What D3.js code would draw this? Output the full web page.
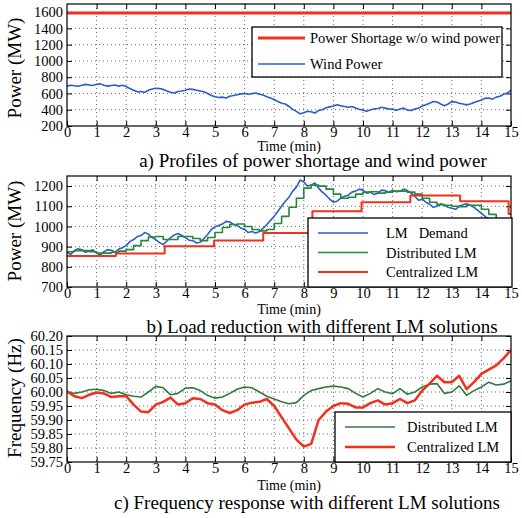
<!DOCTYPE html>
<html><head><meta charset="utf-8">
<script src="https://cdn.jsdelivr.net/npm/d3@7"></script>
<style>
body{margin:0;background:#fff}
svg{display:block}
svg text{font-family:'Liberation Serif','Times New Roman','DejaVu Serif',serif !important;fill:#000}
</style>
</head><body>
<svg id="c" width="522" height="518" font-family="Liberation Serif"></svg>
<script>
// ---------- data ----------
const timeTicks = [0,1,2,3,4,5,6,7,8,9,10,11,12,13,14,15];
const sampleTimes = d3.range(0, 15.001, 0.25);  // 61 samples, every 15 s
const fineTimes = d3.range(0, 15.001, 0.125);   // 121 samples, every 7.5 s

// a) power shortage & wind power (MW)
const p1YTicks = [200,400,600,800,1000,1200,1400,1600];
const shortageTimes = [0, 15];
const shortageValues = [1590, 1590];
const windValues = [
  690,702,695,688,700,712,705,698,
  712,718,700,690,698,705,690,700,
  685,660,640,620,625,615,640,655,
  665,660,650,630,615,605,625,630,
  640,655,650,640,630,620,600,575,
  560,550,555,545,565,575,585,595,
  600,590,598,605,590,580,560,545,
  525,500,480,470,440,405,380,350,
  362,380,375,360,390,400,425,435,
  445,460,450,440,430,440,420,405,
  395,380,400,410,415,430,420,410,
  405,395,410,420,395,390,410,420,
  445,460,480,500,495,470,450,470,
  500,495,480,470,460,470,490,505,
  520,540,545,530,555,565,590,605,
  640];

// b) load reduction (MW)
const p2YTicks = [700,800,900,1000,1100,1200];
const demandValues = [
  872,862,880,890,885,872,878,884,
  868,858,875,885,882,872,888,895,
  905,925,935,950,955,970,962,945,
  935,920,910,928,945,958,965,955,
  945,932,930,918,922,940,960,985,
  998,1005,1012,1025,1022,1010,1005,992,
  985,970,975,968,975,990,1010,1030,
  1050,1075,1100,1125,1145,1175,1195,1230,
  1220,1200,1205,1215,1190,1170,1155,1135,
  1120,1125,1140,1150,1155,1170,1175,1185,
  1180,1165,1170,1158,1165,1180,1178,1168,
  1180,1172,1175,1185,1178,1165,1150,1130,
  1135,1120,1110,1095,1100,1112,1105,1095,
  1090,1085,1100,1108,1112,1105,1095,1080,
  1065,1050,1035,1020,1005,985,965,940,
  910];
const distributedValues = [875,880,880,875,868,868,872,878,885,905,930,948,950,935,935,950,950,940,930,945,
  970,995,1010,1012,1000,985,978,985,1015,1050,1095,1140,1190,1205,1200,1185,1160,1140,1145,1160,
  1170,1172,1165,1170,1175,1175,1170,1160,1140,1120,1108,1105,1100,1098,1105,1105,1085,1060,1035,1010,975];
const centralTimes = [0,1.65,3.3,4.97,6.63,8.29,9.95,11.6,13.28,14.92,15];
const centralValues = [853,866,902,930,968,1075,1120,1153,1125,1062,1062];

// c) frequency (Hz)
const p3YTicks = [59.75,59.80,59.85,59.90,59.95,60.00,60.05,60.10,60.15,60.20];
const freqDistributed = [60.002,59.995,60.000,60.008,60.010,60.005,59.995,60.000,59.990,59.985,59.982,60.000,60.020,60.015,59.990,59.995,60.014,60.015,60.005,59.988,
  59.978,59.982,59.995,60.010,60.018,60.015,60.000,59.985,59.975,59.965,59.958,59.962,59.988,60.005,60.012,60.018,60.021,60.018,60.012,59.995,
  59.982,59.995,60.012,60.000,59.994,60.012,59.992,60.000,60.018,60.028,60.030,59.995,60.000,60.022,59.988,60.005,60.018,60.035,60.025,60.028,60.040];
const freqCentral = [60.002,59.985,59.978,59.990,59.998,59.995,59.982,59.985,59.985,59.955,59.930,59.928,59.955,59.965,59.980,59.955,59.960,59.978,59.975,59.960,
  59.955,59.935,59.925,59.935,59.955,59.962,59.965,59.975,59.950,59.910,59.870,59.830,59.805,59.815,59.900,59.930,59.950,59.960,59.958,59.945,
  59.945,59.960,59.970,59.955,59.960,59.975,59.960,59.970,60.005,60.030,60.058,60.035,60.035,60.058,60.010,60.035,60.065,60.080,60.095,60.120,60.150];

// ---------- styles ----------
const FONT = "'Liberation Serif','Times New Roman','DejaVu Serif',serif";
const RED = "#f2301e", BLUE = "#2b5ec6", GREEN = "#22883a", DGREEN = "#2e7a3c";
const L = 67, R = 511;
const svg = d3.select("#c");

function panel(cfg) {
  const g = svg.append("g");
  const x = d3.scaleLinear().domain([0, 15]).range([L, R]);
  const y = d3.scaleLinear().domain(cfg.domain).range([cfg.bottom, cfg.top]);
  const id = "clip" + cfg.name;
  svg.append("clipPath").attr("id", id).append("rect")
    .attr("x", L).attr("y", cfg.top).attr("width", R - L).attr("height", cfg.bottom - cfg.top);

  // grid
  const grid = g.append("g").attr("stroke", "#000").attr("stroke-width", 0.8)
    .attr("stroke-dasharray", "1,3").attr("opacity", 0.75);
  grid.selectAll("line.v").data(timeTicks.filter(d => d > 0 && d < 15)).join("line")
    .attr("x1", d => x(d)).attr("x2", d => x(d)).attr("y1", cfg.top).attr("y2", cfg.bottom);
  grid.selectAll("line.h").data(cfg.yTicks.filter(d => y(d) < cfg.bottom - 1 && y(d) > cfg.top + 1)).join("line")
    .attr("x1", L).attr("x2", R).attr("y1", d => y(d)).attr("y2", d => y(d));

  // axes
  const ax = (a) => a.tickSizeOuter(0);
  const fix = s => { s.select(".domain").remove(); s.attr("font-family", null).attr("font-size", null); };
  g.append("g").attr("transform", `translate(0,${cfg.bottom})`)
    .call(ax(d3.axisBottom(x).tickValues(timeTicks).tickSizeInner(-5).tickPadding(1))).call(fix);
  g.append("g").attr("transform", `translate(0,${cfg.top})`)
    .call(ax(d3.axisTop(x).tickValues(timeTicks.filter(d => d > 0 && d < 15)).tickSizeInner(-5).tickFormat(""))).call(fix);
  g.append("g").attr("transform", `translate(${L},0)`)
    .call(ax(d3.axisLeft(y).tickValues(cfg.yTicks).tickSizeInner(-5).tickPadding(4).tickFormat(cfg.fmt))).call(fix);
  g.append("g").attr("transform", `translate(${R},0)`)
    .call(ax(d3.axisRight(y).tickValues(cfg.yTicks).tickSizeInner(-5).tickFormat(""))).call(fix);
  g.selectAll(".tick text").attr("font-size", 14.5).style("font-family", FONT).attr("fill", "#000");
  g.selectAll(".tick line").attr("stroke", "#000");

  // series
  const lines = g.append("g").attr("clip-path", `url(#${id})`);
  cfg.series.forEach(s => {
    const line = d3.line().x(d => x(d[0])).y(d => y(d[1])).curve(s.step ? d3.curveStepAfter : d3.curveLinear);
    lines.append("path").datum(d3.zip(s.t, s.v)).attr("d", line)
      .attr("fill", "none").attr("stroke", s.color).attr("stroke-width", s.w).attr("stroke-linejoin", "round");
  });

  // frame
  g.append("rect").attr("x", L).attr("y", cfg.top).attr("width", R - L).attr("height", cfg.bottom - cfg.top)
    .attr("fill", "none").attr("stroke", "#000").attr("stroke-width", 1.2);

  // labels
  g.append("text").attr("transform", `translate(21,${cfg.ylabelY}) rotate(-90)`)
    .attr("text-anchor", "middle").attr("font-size", 19).style("font-family", FONT).text(cfg.ylabel);
  g.append("text").attr("x", 289).attr("y", cfg.bottom + cfg.xlabelOff).attr("text-anchor", "middle")
    .attr("font-size", 14).style("font-family", FONT).text("Time (min)");
  g.append("text").attr("x", cfg.capX).attr("y", cfg.capY).attr("text-anchor", "middle")
    .attr("font-size", 19).style("font-family", FONT).text(cfg.caption);

  // legend
  const lg = cfg.legend;
  const lgG = g.append("g");
  lgG.append("rect").attr("x", lg.x).attr("y", lg.y).attr("width", lg.w).attr("height", lg.h)
    .attr("fill", "#fff").attr("stroke", "#000").attr("stroke-width", 1.3);
  lg.items.forEach((it, i) => {
    const yy = lg.y + lg.first + i * lg.gap;
    lgG.append("line").attr("x1", lg.x + lg.lx1).attr("x2", lg.x + lg.lx2).attr("y1", yy).attr("y2", yy)
      .attr("stroke", it.color).attr("stroke-width", it.w);
    lgG.append("text").attr("x", lg.x + lg.tx).attr("y", yy + 5).attr("font-size", 14.5)
      .style("font-family", FONT).style("white-space", "pre").text(it.label);
  });
}

panel({
  name: "a", top: 4, bottom: 126, domain: [200, 1700], yTicks: p1YTicks, fmt: d3.format("d"),
  ylabel: "Power (MW)", ylabelY: 68, xlabelOff: 25, capX: 313, capY: 167,
  caption: "a) Profiles of power shortage and wind power",
  series: [
    {t: shortageTimes, v: shortageValues, color: RED, w: 3},
    {t: fineTimes, v: windValues, color: BLUE, w: 1.6}
  ],
  legend: {x: 252, y: 27, w: 250, h: 50, first: 11, gap: 26, lx1: 6, lx2: 53, tx: 58,
    items: [{label: "Power Shortage w/o wind power", color: RED, w: 3},
            {label: "Wind Power", color: BLUE, w: 1.6}]}
});

panel({
  name: "b", top: 176, bottom: 287, domain: [700, 1250], yTicks: p2YTicks, fmt: d3.format("d"),
  ylabel: "Power (MW)", ylabelY: 231, xlabelOff: 27, capX: 322, capY: 333,
  caption: "b) Load reduction with different LM solutions",
  series: [
    {t: fineTimes, v: demandValues, color: BLUE, w: 1.6},
    {t: sampleTimes, v: distributedValues, color: GREEN, w: 1.6, step: true},
    {t: centralTimes, v: centralValues, color: RED, w: 2, step: true}
  ],
  legend: {x: 308, y: 218, w: 204, h: 69, first: 15, gap: 19.5, lx1: 10, lx2: 60, tx: 78,
    items: [{label: "LM   Demand", color: BLUE, w: 1.6},
            {label: "Distributed LM", color: GREEN, w: 1.6},
            {label: "Centralized LM", color: RED, w: 2}]}
});

panel({
  name: "c", top: 336, bottom: 462, domain: [59.75, 60.20], yTicks: p3YTicks, fmt: d3.format(".2f"),
  ylabel: "Frequency (Hz)", ylabelY: 398, xlabelOff: 28, capX: 307, capY: 509,
  caption: "c) Frequency response with different LM solutions",
  series: [
    {t: sampleTimes, v: freqDistributed, color: DGREEN, w: 1.6},
    {t: sampleTimes, v: freqCentral, color: RED, w: 2.5}
  ],
  legend: {x: 335, y: 412, w: 176, h: 50, first: 15, gap: 20, lx1: 10, lx2: 60, tx: 72,
    items: [{label: "Distributed LM", color: DGREEN, w: 1.6},
            {label: "Centralized LM", color: RED, w: 2.5}]}
});
</script>
</body></html>
